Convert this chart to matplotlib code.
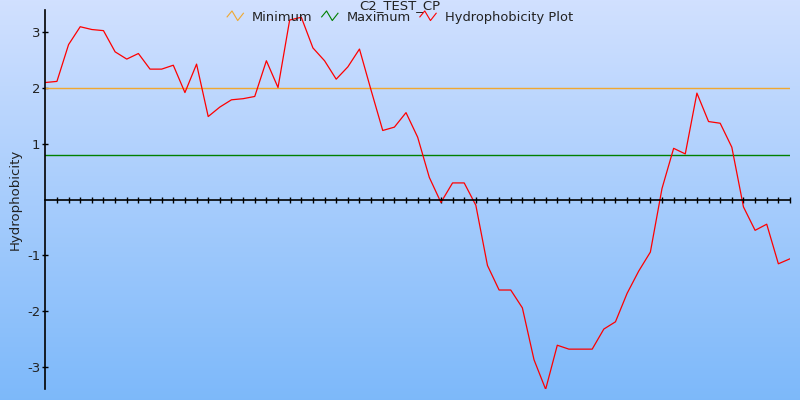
from __future__ import annotations

import matplotlib

matplotlib.use("Agg")

import matplotlib.pyplot as plt
import numpy as np
from matplotlib.legend_handler import HandlerLine2D
from matplotlib.lines import Line2D

TITLE = "C2_TEST_CP"
Y_LABEL = "Hydrophobicity"
SERIES_NAMES = ["Minimum", "Maximum", "Hydrophobicity Plot"]

MINIMUM_LEVEL = 2.0
MAXIMUM_LEVEL = 0.8

HYDROPHOBICITY = [
    2.10, 2.12, 2.78, 3.10, 3.05, 3.03, 2.65, 2.52, 2.62, 2.34,
    2.34, 2.41, 1.92, 2.43, 1.49, 1.66, 1.79, 1.81, 1.85, 2.49,
    2.01, 3.22, 3.27, 2.72, 2.49, 2.16, 2.38, 2.70, 1.96, 1.24,
    1.30, 1.56, 1.12, 0.40, -0.05, 0.30, 0.30, -0.10, -1.18, -1.62,
    -1.62, -1.94, -2.87, -3.40, -2.61, -2.68, -2.68, -2.68, -2.32, -2.19,
    -1.68, -1.28, -0.94, 0.20, 0.92, 0.82, 1.91, 1.40, 1.37, 0.94,
    -0.13, -0.55, -0.44, -1.15, -1.06,
]
Y_TICKS = [-3, -2, -1, 1, 2, 3]

COLORS = {"Minimum": "#f0a830", "Maximum": "#008000", "Hydrophobicity Plot": "#ff0000"}
BG_TOP = (0.82, 0.88, 1.0)
BG_BOTTOM = (0.49, 0.725, 0.98)


class ZigzagHandler(HandlerLine2D):
    # legend icons are little zigzags instead of straight strokes
    def create_artists(self, legend, orig_handle, xdescent, ydescent, width, height, fontsize, trans):
        xs = np.array([0.0, 0.3, 0.65, 1.0]) * width - xdescent
        ys = np.array([0.45, 1.1, 0.05, 0.85]) * height - ydescent
        line = Line2D(xs, ys, color=orig_handle.get_color(), linewidth=0.8)
        line.set_transform(trans)
        return [line]


def draw_background(fig: plt.Figure) -> None:
    bg = fig.add_axes([0, 0, 1, 1], zorder=-10)
    grad = np.linspace(0, 1, 256)[:, None]
    top = np.array(BG_TOP)
    bottom = np.array(BG_BOTTOM)
    img = top[None, None, :] * (1 - grad[..., None]) + bottom[None, None, :] * grad[..., None]
    bg.imshow(img, aspect="auto", extent=(0, 1, 0, 1))
    bg.set_axis_off()


def main() -> int:
    plt.rcParams["font.family"] = ["DejaVu Sans"]
    fig = plt.figure(figsize=(8, 4), dpi=100)
    draw_background(fig)

    ax = fig.add_axes([45.3 / 800, 1 - 389.3 / 400, (790 - 45.3) / 800, (389.3 - 10) / 400])
    ax.patch.set_alpha(0)
    xs = np.arange(len(HYDROPHOBICITY))

    h_min = ax.axhline(MINIMUM_LEVEL, color=COLORS["Minimum"], linewidth=1.0)
    h_max = ax.axhline(MAXIMUM_LEVEL, color=COLORS["Maximum"], linewidth=1.0)
    (h_plot,) = ax.plot(xs, HYDROPHOBICITY, color=COLORS["Hydrophobicity Plot"], linewidth=0.9)

    ax.set_xlim(0, len(HYDROPHOBICITY) - 1)
    lim = max(abs(v) for v in HYDROPHOBICITY)
    ax.set_ylim(-lim, lim)

    for side in ("top", "right"):
        ax.spines[side].set_visible(False)
    ax.spines["bottom"].set_position(("data", 0))
    ax.spines["left"].set_position(("data", 0))
    ax.spines["bottom"].set_linewidth(1.2)
    ax.spines["left"].set_linewidth(1.2)

    ax.set_xticks(xs[1:])
    ax.set_xticklabels([])
    ax.set_yticks(Y_TICKS)
    ax.set_yticklabels([str(t) for t in Y_TICKS])
    ax.tick_params(axis="both", direction="inout", length=5, width=1.0, color="black")
    ax.tick_params(axis="y", labelsize=9.5, labelcolor="#222222", pad=1)
    ax.set_ylabel(Y_LABEL, fontsize=9.5, color="#222222", labelpad=4)

    fig.text(0.5, 1 - 6 / 400, TITLE, ha="center", va="center", fontsize=9.5, color="#222222")
    fig.legend(
        [h_min, h_max, h_plot],
        SERIES_NAMES,
        loc="center",
        bbox_to_anchor=(0.5, 1 - 17.5 / 400),
        ncol=3,
        frameon=False,
        fontsize=9.4,
        handlelength=1.25,
        handletextpad=0.65,
        columnspacing=0.7,
        handler_map={Line2D: ZigzagHandler()},
        labelcolor="#222222",
    )

    fig.savefig("out.png", dpi=100)
    plt.close(fig)
    return 0


if __name__ == "__main__":
    raise SystemExit(main())
